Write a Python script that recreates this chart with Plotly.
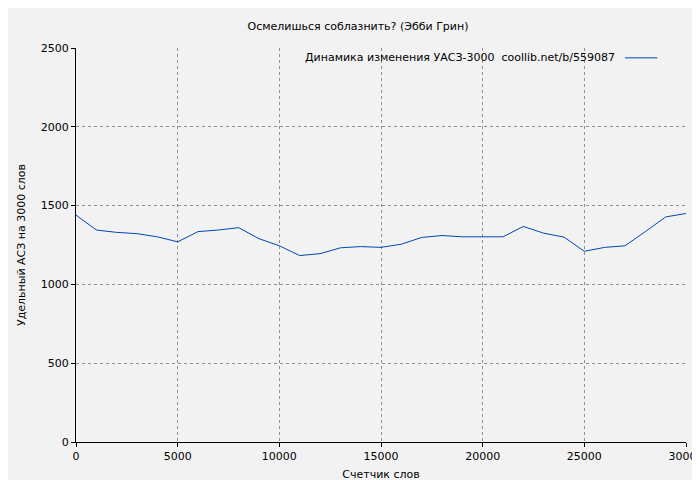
import plotly.graph_objects as go

x = list(range(0, 30001, 1000))
y = [1440, 1345, 1330, 1322, 1302, 1270, 1335, 1345, 1360, 1290, 1245, 1183, 1195, 1232, 1240,
     1235, 1255, 1298, 1310, 1302, 1302, 1302, 1368, 1325, 1300, 1210, 1235, 1245, 1335, 1428, 1450]
xticks = list(range(0, 30001, 5000))
yticks = list(range(0, 2501, 500))
legend_text = "Динамика изменения УАСЗ-3000  coollib.net/b/559087"

fig = go.Figure(go.Scatter(x=x, y=y, mode="lines", line=dict(color="#0047b3", width=1),
                           name=legend_text, showlegend=False))
ax = dict(showline=True, linecolor="black", linewidth=1, mirror=False, ticks="outside",
          ticklen=4, tickcolor="black", showgrid=True, gridcolor="#909090", griddash="dot",
          zeroline=False, tickfont=dict(size=11), automargin=False)
fig.update_layout(
    width=700, height=480, paper_bgcolor="#f2f2f2", plot_bgcolor="#f2f2f2",
    font=dict(family="DejaVu Sans", size=11, color="black"),
    margin=dict(l=68, r=22, t=40, b=46, autoexpand=False),
    title=dict(text="Осмелишься соблазнить? (Эбби Грин)", x=0.5, y=0.962, xanchor="center",
               yanchor="middle", font=dict(size=11)),
    xaxis=dict(ax, range=[0, 30000], tickvals=xticks, ticktext=[str(v) for v in xticks],
               title=dict(text="Счетчик слов", standoff=8, font=dict(size=11))),
    yaxis=dict(ax, range=[0, 2500], tickvals=yticks, ticktext=[str(v) for v in yticks],
               title=dict(text="Удельный АСЗ на 3000 слов", standoff=12, font=dict(size=11))),
    annotations=[dict(text=legend_text, xref="paper", yref="paper", x=0.887, y=0.975,
                      xanchor="right", yanchor="middle", showarrow=False, font=dict(size=11))],
    shapes=[dict(type="line", xref="paper", yref="paper", x0=0.9, x1=0.953, y0=0.975, y1=0.975,
                 line=dict(color="#0047b3", width=1))],
)
fig.write_html("out.html")
